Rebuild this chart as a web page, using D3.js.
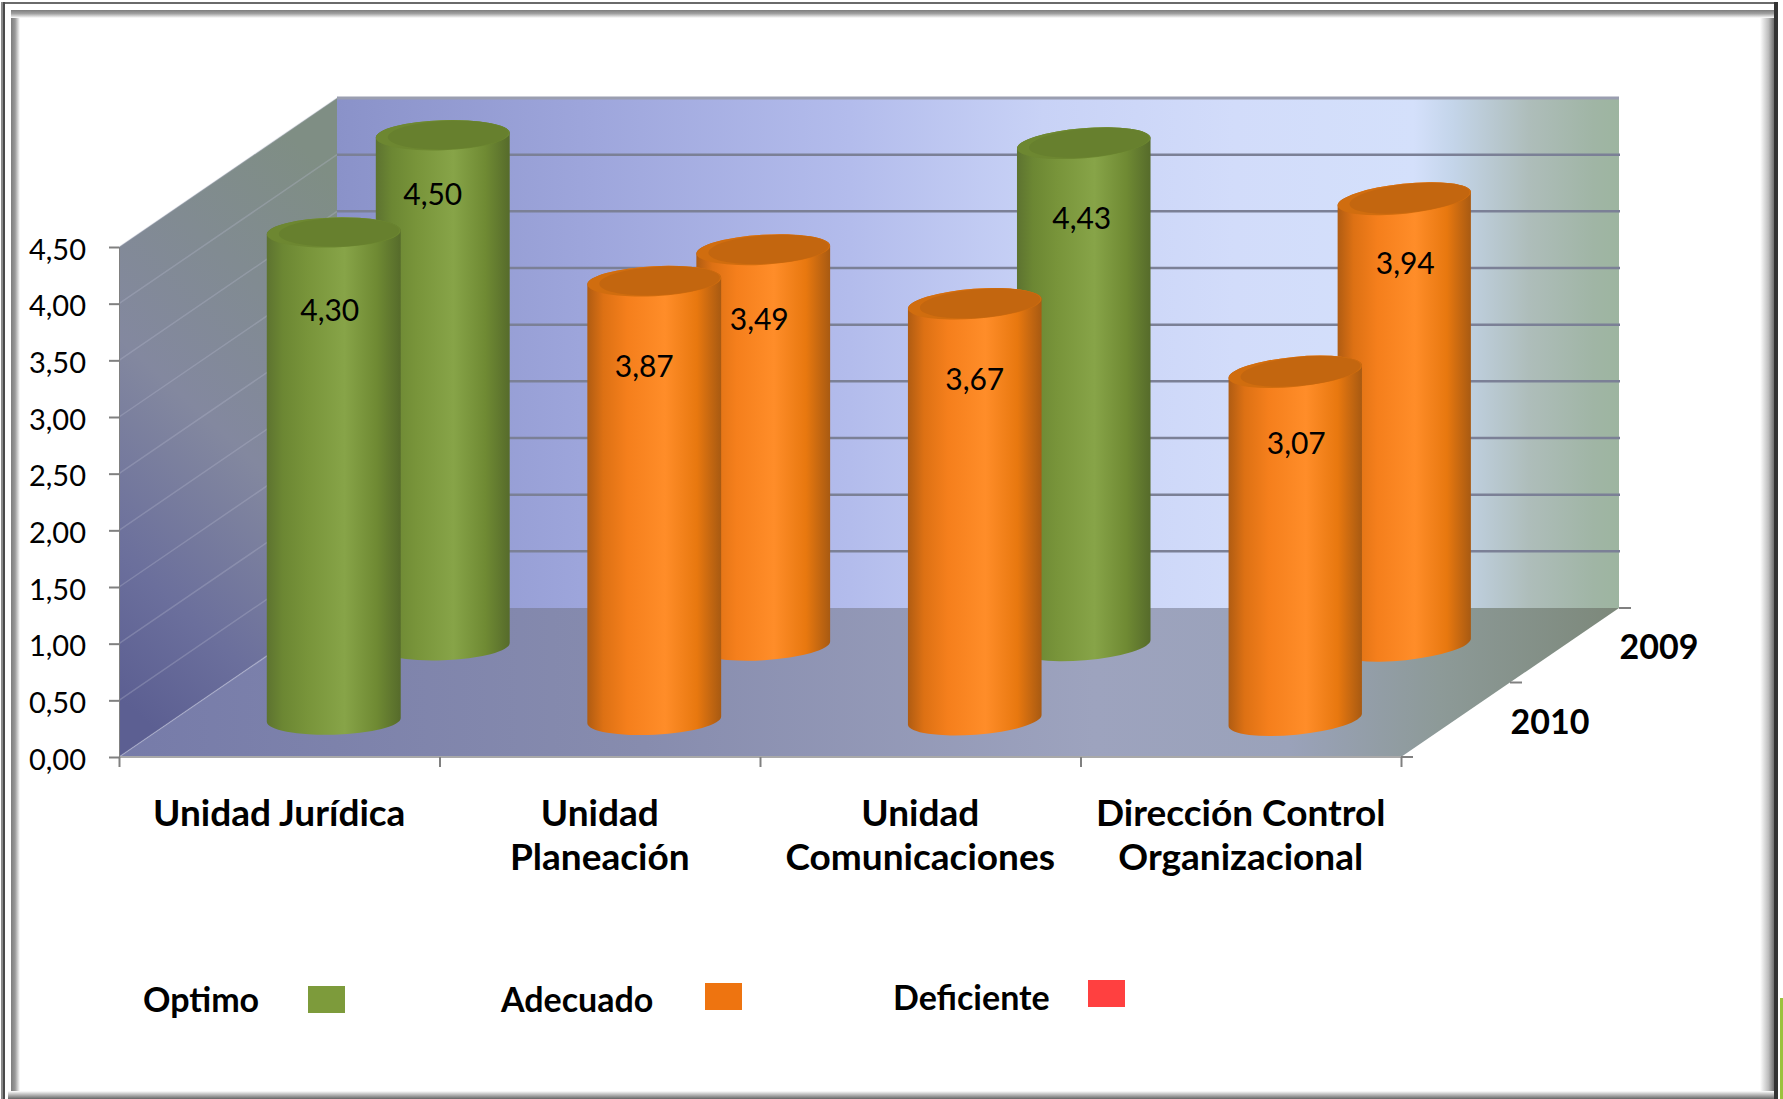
<!DOCTYPE html>
<html>
<head>
<meta charset="utf-8">
<title>Unidades 2009 - 2010</title>
<script src="https://cdnjs.cloudflare.com/ajax/libs/d3/7.8.5/d3.min.js"></script>
<style>
    html, body { margin: 0; padding: 0; background: #fff; }
    svg { display: block; }
    text { font-family: Lato, "Open Sans", sans-serif; fill: #000; }
</style>
</head>
<body>
<div id="chart"></div>
<script>
// Data
var categories = ["Unidad Jurídica", "Unidad\nPlaneación", "Unidad\nComunicaciones", "Dirección Control\nOrganizacional"];
var years = ["2010", "2009"];
var values2010 = [4.30, 3.87, 3.67, 3.07];
var values2009 = [4.50, 3.49, 4.43, 3.94];
var yTicks = [0, 0.5, 1, 1.5, 2, 2.5, 3, 3.5, 4, 4.5];
var legendNames = ["Optimo", "Adecuado", "Deficiente"];
var legendColors = ["#7d9b3b", "#ee7410", "#ff4040"];

var width = 1783, height = 1099;

// Front plane of the box and how far the back wall is pushed up and to the right
var plot = {left: 119, right: 1401, bottom: 757, top: 247},
    depthX = 218,
    depthY = 149;

var radiusX = 67,
    radiusY = 15;

// Small nudges for the value labels, [dx, dy below cylinder top], by year then category
var labelNudge = {
    "2010": [[-4, 80], [-10, 87], [0, 77], [1, 73]],
    "2009": [[-10, 61], [-4, 71], [-2, 77], [1, 66]]
};

var svg = d3.select("#chart").append("svg")
    .attr("width", width)
    .attr("height", height);

var defs = svg.append("defs");

var _x = d3.scaleBand().domain(d3.range(categories.length)).range([plot.left, plot.right]);
var _depth = d3.scaleBand().domain(years).range([0, 1]);
var _y = d3.scaleLinear().domain([0, 4.5]).range([plot.bottom, plot.top]);
var _tilt = d3.scaleLinear().domain([300, 1400]).range([1.5, 6]);

// value -> status colour, same bands as the legend
var statusOf = d3.scaleThreshold().domain([3, 4]).range(["red", "orange", "green"]);

function linearGradient(id, stops, x1, y1, x2, y2) {
    var g = defs.append("linearGradient")
        .attr("id", id)
        .attr("x1", x1 || 0).attr("y1", y1 || 0)
        .attr("x2", x2 === undefined ? 1 : x2).attr("y2", y2 || 0);
    stops.forEach(function (s) {
        g.append("stop").attr("offset", s[0]).attr("stop-color", s[1]);
    });
}

linearGradient("wall", [[0, "#8a92c9"], [0.2, "#9ea6dc"], [0.4, "#b3bcec"], [0.55, "#c8d2f6"], [0.7, "#d2dcfa"], [0.84, "#d4e0fb"], [0.87, "#c4d5ea"], [0.93, "#aebdba"], [0.98, "#a0b5a5"], [1, "#9db5a0"]]);
linearGradient("floor", [[0, "#767ba9"], [0.35, "#878cae"], [0.65, "#9da3be"], [0.78, "#9aa2ba"], [0.88, "#8d9a98"], [1, "#7c887a"]]);
linearGradient("sideWall", [[0, "#7f8e84"], [0.5, "#83889f"], [0.8, "#6b6f9c"], [1, "#5c5f92"]], 0.6, 0, 0.3, 1);

linearGradient("cyl-green", [[0, "#5d7330"], [0.12, "#6c8733"], [0.3, "#78943a"], [0.58, "#87a448"], [0.82, "#6f8a33"], [1, "#566b2b"]]);
linearGradient("cyl-orange", [[0, "#b05c12"], [0.12, "#dd7114"], [0.3, "#f57f1c"], [0.58, "#ff8d29"], [0.82, "#e8780f"], [1, "#a85a12"]]);
linearGradient("cyl-red", [[0, "#b02a2a"], [0.5, "#ff4a4a"], [1, "#a82828"]]);
var capColor = {green: "#67802e", orange: "#c3660f", red: "#c43030"};
var capRim = {green: "#6d8731", orange: "#d06d0f", red: "#dd3a3a"};

/* Walls and floor */
function backY(v) { return _y(v) - depthY; }

function polygon(points, fill) {
    return svg.append("polygon")
        .attr("points", points.map(function (p) { return p.join(","); }).join(" "))
        .attr("fill", fill);
}

var backLeft = plot.left + depthX,
    backRight = plot.right + depthX;

svg.append("rect")
    .attr("x", backLeft).attr("y", backY(4.5))
    .attr("width", backRight - backLeft)
    .attr("height", _y(0) - _y(4.5))
    .attr("fill", "url(#wall)");

polygon([[plot.left, _y(0)], [plot.left, _y(4.5)], [backLeft, backY(4.5)], [backLeft, backY(0)]], "url(#sideWall)");
polygon([[plot.left, _y(0)], [plot.right, _y(0)], [backRight, backY(0)], [backLeft, backY(0)]], "url(#floor)");

// Gridlines on the back wall and the side wall
var grid = svg.append("g");
yTicks.slice(1).forEach(function (v) {
    grid.append("line")
        .attr("x1", plot.left).attr("y1", _y(v))
        .attr("x2", backLeft).attr("y2", backY(v))
        .attr("stroke", "#b9bdd2").attr("stroke-opacity", 0.3).attr("stroke-width", 1.5);
    if (v < 4.5) {
        grid.append("line")
            .attr("x1", backLeft).attr("y1", backY(v))
            .attr("x2", backRight + 1).attr("y2", backY(v))
            .attr("stroke", "#7b8096").attr("stroke-width", 2.5);
    }
});
grid.append("line")
    .attr("x1", plot.left).attr("y1", _y(0))
    .attr("x2", backLeft).attr("y2", backY(0))
    .attr("stroke", "#c5c8dc").attr("stroke-opacity", 0.4).attr("stroke-width", 1.5);
grid.append("line")
    .attr("x1", backLeft).attr("y1", backY(4.5))
    .attr("x2", backRight).attr("y2", backY(4.5))
    .attr("stroke", "#9a9eb0").attr("stroke-width", 3);
grid.append("line")
    .attr("x1", plot.left).attr("y1", _y(0))
    .attr("x2", plot.right).attr("y2", _y(0))
    .attr("stroke", "#a9a9a9").attr("stroke-width", 2);

/* Axes */
var tickColor = "#808080";

var yAxis = d3.axisLeft(_y)
    .tickValues(yTicks)
    .tickSize(10)
    .tickPadding(23)
    .tickFormat(function (d) { return d3.format(".2f")(d).replace(".", ","); });

var yG = svg.append("g")
    .attr("transform", "translate(" + plot.left + ",0)")
    .call(yAxis);
yG.select(".domain").attr("stroke", tickColor).attr("stroke-width", 1);
yG.selectAll("line").attr("stroke", tickColor).attr("stroke-width", 2);
yG.selectAll("text").attr("font-size", 29).attr("dy", "0.42em").attr("font-family", "Lato").attr("fill", "#000");

// Category boundaries along the front edge
var xEdge = d3.scaleLinear().domain([0, categories.length]).range([plot.left, plot.right]);
var xG = svg.append("g")
    .attr("transform", "translate(0," + plot.bottom + ")")
    .call(d3.axisBottom(xEdge).tickValues(d3.range(categories.length + 1)).tickSize(10).tickFormat(""));
xG.select(".domain").remove();
xG.selectAll("line").attr("stroke", tickColor).attr("stroke-width", 2);

var catLabels = svg.append("g").attr("text-anchor", "middle")
    .attr("font-size", 37).attr("font-weight", 700);
categories.forEach(function (name, i) {
    var t = catLabels.append("text")
        .attr("x", _x(i) + _x.bandwidth() / 2)
        .attr("y", 826);
    name.split("\n").forEach(function (line, j) {
        t.append("tspan")
            .attr("x", _x(i) + _x.bandwidth() / 2)
            .attr("dy", j ? 44 : 0)
            .text(line);
    });
});

// Depth axis ticks and year labels on the right edge
[0, 0.5, 1].forEach(function (d) {
    svg.append("line")
        .attr("x1", plot.right + depthX * d)
        .attr("y1", plot.bottom - depthY * d)
        .attr("x2", plot.right + depthX * d + 12)
        .attr("y2", plot.bottom - depthY * d)
        .attr("stroke", tickColor).attr("stroke-width", 2);
});
years.forEach(function (year) {
    var d = _depth(year) + _depth.bandwidth() / 2;
    svg.append("text")
        .attr("x", plot.right + depthX * d + 55)
        .attr("y", plot.bottom - depthY * d + 14)
        .attr("font-size", 34).attr("font-weight", 700)
        .text(year);
});

/* Cylinders, back row first so the front row overlaps it */
function cylinder(i, year, value) {
    var d = _depth(year) + _depth.bandwidth() / 2,
        cx = _x(i) + _x.bandwidth() / 2 + depthX * d,
        baseY = plot.bottom - depthY * d,
        topY = baseY - (_y(0) - _y(value)),
        tilt = _tilt(cx),
        rad = tilt * Math.PI / 180,
        ex = radiusX * Math.cos(rad),
        ey = radiusX * Math.sin(rad),
        key = statusOf(value);

    var g = svg.append("g").attr("class", "cylinder");

    var arc = "A" + radiusX + "," + radiusY + " " + (-tilt) + " 0 ";
    g.append("path")
        .attr("d", "M" + (cx - ex) + "," + (topY + ey) +
            "L" + (cx - ex) + "," + (baseY + ey) +
            arc + "0 " + (cx + ex) + "," + (baseY - ey) +
            "L" + (cx + ex) + "," + (topY - ey) +
            arc + "0 " + (cx - ex) + "," + (topY + ey) + "Z")
        .attr("fill", "url(#cyl-" + key + ")");

    // Top face: lighter rim with the darker disc sitting slightly to the right
    var cap = g.append("g")
        .attr("transform", "rotate(" + (-tilt) + " " + cx + " " + topY + ")");
    cap.append("ellipse")
        .attr("cx", cx).attr("cy", topY)
        .attr("rx", radiusX).attr("ry", radiusY)
        .attr("fill", capRim[key]);
    cap.append("ellipse")
        .attr("cx", cx + radiusX * 0.08).attr("cy", topY)
        .attr("rx", radiusX * 0.9).attr("ry", radiusY * 0.95)
        .attr("fill", capColor[key]);

    var nudge = labelNudge[year][i];
    g.append("text")
        .attr("x", cx + nudge[0])
        .attr("y", topY + nudge[1] + 9)
        .attr("text-anchor", "middle")
        .attr("font-size", 30)
        .text(d3.format(".2f")(value).replace(".", ","));
}

categories.forEach(function (c, i) { cylinder(i, "2009", values2009[i]); });
categories.forEach(function (c, i) { cylinder(i, "2010", values2010[i]); });

/* Legend */
var legendTextX = [143, 501, 893],
    legendTextY = [1012, 1012, 1010],
    legendBoxX = [308, 705, 1088],
    legendBoxY = [986, 983, 980];

legendNames.forEach(function (name, i) {
    svg.append("text")
        .attr("x", legendTextX[i]).attr("y", legendTextY[i])
        .attr("font-size", 34).attr("font-weight", 700)
        .text(name);
    svg.append("rect")
        .attr("x", legendBoxX[i]).attr("y", legendBoxY[i])
        .attr("width", 37).attr("height", 27)
        .attr("fill", legendColors[i]);
});

/* Picture frame */
linearGradient("edgeLeft", [[0, "#7d7d7d"], [0.45, "#9a9a9a"], [1, "#fff"]]);
linearGradient("edgeRight", [[0, "#fff"], [0.6, "#bdbdbd"], [1, "#6f6f6f"]]);
linearGradient("edgeTop", [[0, "#7d7d7d"], [0.45, "#a0a0a0"], [1, "#fff"]], 0, 0, 0, 1);
linearGradient("edgeBottom", [[0, "#fff"], [1, "#666"]], 0, 0, 0, 1);

var frame = svg.append("g");
frame.append("rect").attr("x", 11).attr("y", 10).attr("width", 9).attr("height", 1085).attr("fill", "url(#edgeLeft)");
frame.append("rect").attr("x", 1760).attr("y", 10).attr("width", 14).attr("height", 1085).attr("fill", "url(#edgeRight)");
frame.append("rect").attr("x", 11).attr("y", 10).attr("width", 1763).attr("height", 8).attr("fill", "url(#edgeTop)");
frame.append("rect").attr("x", 8).attr("y", 1091).attr("width", 1766).attr("height", 8).attr("fill", "url(#edgeBottom)");
// Outer rule: two-tone on the left, heavy on the right
frame.append("rect").attr("x", 2).attr("y", 2).attr("width", 1776).attr("height", 2).attr("fill", "#6a6a6a");
frame.append("rect").attr("x", 1).attr("y", 2).attr("width", 2).attr("height", 1097).attr("fill", "#8a8a8a");
frame.append("rect").attr("x", 3).attr("y", 2).attr("width", 2).attr("height", 1097).attr("fill", "#4a4a4a");
frame.append("rect").attr("x", 1774).attr("y", 2).attr("width", 4).attr("height", 1097).attr("fill", "#333");
frame.append("rect").attr("x", 1780).attr("y", 998).attr("width", 3).attr("height", 101).attr("fill", "#9bc23c");
</script>
</body>
</html>
